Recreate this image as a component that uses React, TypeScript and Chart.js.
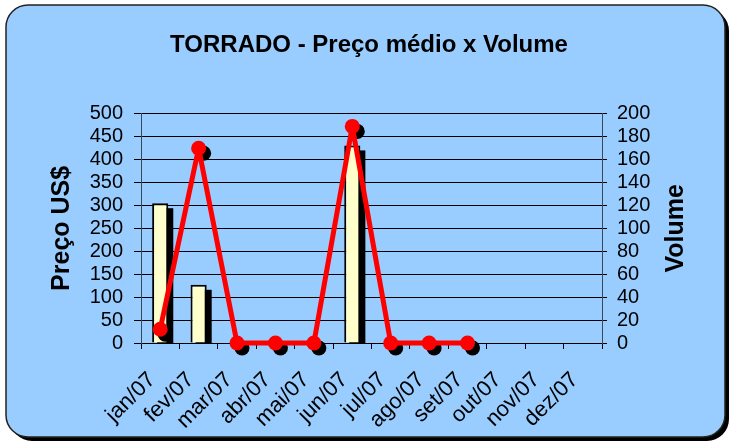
import React, { useEffect, useRef } from 'react';
import { Chart, registerables } from 'chart.js';

Chart.register(...registerables);

const titleText = 'TORRADO - Preço médio x Volume';
const leftAxisTitle = 'Preço US$';
const rightAxisTitle = 'Volume';

const categories = ['jan/07', 'fev/07', 'mar/07', 'abr/07', 'mai/07', 'jun/07', 'jul/07', 'ago/07', 'set/07', 'out/07', 'nov/07', 'dez/07'];
const precoValues: (number | null)[] = [305, 127, null, null, null, 431, null, null, null, null, null, null];
const volumeValues: (number | null)[] = [12, 170, 0, 0, 0, 189, 0, 0, 0, null, null, null];

const precoMin = 0;
const precoMax = 500;
const precoStep = 50;
const volumeMin = 0;
const volumeMax = 200;
const volumeStep = 20;

const FONT = '"Liberation Sans", Arial, sans-serif';

function roundRectPath(ctx: CanvasRenderingContext2D, x: number, y: number, w: number, h: number, r: number) {
  ctx.beginPath();
  ctx.moveTo(x + r, y);
  ctx.lineTo(x + w - r, y);
  ctx.arcTo(x + w, y, x + w, y + r, r);
  ctx.lineTo(x + w, y + h - r);
  ctx.arcTo(x + w, y + h, x + w - r, y + h, r);
  ctx.lineTo(x + r, y + h);
  ctx.arcTo(x, y + h, x, y + h - r, r);
  ctx.lineTo(x, y + r);
  ctx.arcTo(x, y, x + r, y, r);
  ctx.closePath();
}

const backgroundPlugin = {
  id: 'roundedBackground',
  beforeDraw(chart: any) {
    const ctx = chart.ctx as CanvasRenderingContext2D;
    ctx.save();
    roundRectPath(ctx, 10, 9, 719, 432, 22);
    ctx.fillStyle = '#000000';
    ctx.fill();
    roundRectPath(ctx, 6, 5, 719, 432, 22);
    ctx.fillStyle = '#99CCFF';
    ctx.fill();
    ctx.lineWidth = 1.5;
    ctx.strokeStyle = '#222222';
    ctx.stroke();
    ctx.restore();
  },
  afterDraw(chart: any) {
    const ctx = chart.ctx as CanvasRenderingContext2D;
    const area = chart.chartArea;
    ctx.save();
    ctx.translate(676, (area.top + area.bottom) / 2);
    ctx.rotate(-Math.PI / 2);
    ctx.font = `bold 25px ${FONT}`;
    ctx.fillStyle = '#000000';
    ctx.textAlign = 'center';
    ctx.textBaseline = 'middle';
    ctx.fillText(rightAxisTitle, 0, 0);
    ctx.restore();
  },
};

const shadowPlugin = {
  id: 'markShadows',
  beforeDatasetDraw(chart: any, args: any) {
    const ctx = chart.ctx as CanvasRenderingContext2D;
    const meta = args.meta;
    if (meta.type === 'bar') {
      const a = chart.chartArea;
      ctx.save();
      ctx.beginPath();
      ctx.rect(a.left, a.top, a.right - a.left, a.bottom - a.top);
      ctx.clip();
      ctx.fillStyle = '#000000';
      meta.data.forEach((el: any, i: number) => {
        if (precoValues[i] == null) return;
        const { x, y, base, width } = el.getProps(['x', 'y', 'base', 'width'], true);
        ctx.fillRect(x - width / 2 + 5, y + 5, width, base - y);
      });
      ctx.restore();
    } else if (meta.type === 'line') {
      ctx.save();
      ctx.fillStyle = '#000000';
      meta.data.forEach((el: any, i: number) => {
        if (volumeValues[i] == null || el.skip) return;
        const { x, y } = el.getProps(['x', 'y'], true);
        ctx.beginPath();
        ctx.arc(x + 5, y + 5, 7.5, 0, Math.PI * 2);
        ctx.fill();
      });
      ctx.restore();
    }
  },
};

export default function App() {
  const canvasRef = useRef<HTMLCanvasElement | null>(null);

  useEffect(() => {
    if (!canvasRef.current) return;
    Chart.defaults.font.family = FONT;
    Chart.defaults.color = '#000000';

    const chart = new Chart(canvasRef.current, {
      type: 'bar',
      data: {
        labels: categories,
        datasets: [
          {
            type: 'bar',
            label: leftAxisTitle,
            data: precoValues as any,
            yAxisID: 'y',
            backgroundColor: '#FFFFCC',
            borderColor: '#000000',
            borderWidth: 2,
            borderSkipped: 'start',
            barPercentage: 0.42,
            categoryPercentage: 1,
            order: 2,
          },
          {
            type: 'line',
            label: rightAxisTitle,
            data: volumeValues as any,
            yAxisID: 'y1',
            borderColor: '#FF0000',
            borderWidth: 5,
            borderJoinStyle: 'round',
            borderCapStyle: 'round',
            backgroundColor: '#FF0000',
            pointRadius: 7.5,
            pointBackgroundColor: '#FF0000',
            pointBorderColor: '#FF0000',
            pointBorderWidth: 0,
            tension: 0,
            spanGaps: false,
            clip: false as any,
            order: 1,
          } as any,
        ],
      },
      options: {
        animation: false,
        responsive: false,
        events: [],
        layout: { padding: { left: 6, right: 0, top: 0, bottom: 0 } },
        plugins: {
          legend: { display: false },
          tooltip: { enabled: false },
          title: {
            display: true,
            text: titleText,
            color: '#000000',
            font: { size: 24, weight: 'bold', family: FONT },
            padding: { top: 31, bottom: 54 },
          },
        },
        scales: {
          x: {
            type: 'category',
            offset: true,
            grid: { display: true, drawOnChartArea: false, offset: true, tickLength: 6, color: '#000000', lineWidth: 1 },
            border: { display: true, color: '#000000', width: 1 },
            ticks: {
              autoSkip: false,
              minRotation: 45,
              maxRotation: 45,
              labelOffset: -8,
              padding: 18,
              color: '#000000',
              font: { size: 22, family: FONT },
            },
            afterFit(s: any) {
              s.height = 102;
            },
          },
          y: {
            position: 'left',
            min: precoMin,
            max: precoMax,
            ticks: { stepSize: precoStep, autoSkip: false, padding: 11, color: '#000000', font: { size: 20, family: FONT } },
            grid: { color: '#000000', lineWidth: 1, tickLength: 7 },
            border: { display: true, color: '#3d4652', width: 1 },
            title: {
              display: true,
              text: leftAxisTitle,
              color: '#000000',
              font: { size: 25, weight: 'bold', family: FONT },
              padding: { top: 41, bottom: 0 },
            },
            afterFit(s: any) {
              s.width = 135;
            },
          },
          y1: {
            position: 'right',
            min: volumeMin,
            max: volumeMax,
            ticks: { stepSize: volumeStep, autoSkip: false, padding: 10, color: '#000000', font: { size: 20, family: FONT } },
            grid: { drawOnChartArea: false, color: '#000000', lineWidth: 1, tickLength: 5 },
            border: { display: true, color: '#3d4652', width: 1 },
            afterFit(s: any) {
              s.width = 130;
            },
          },
        },
      } as any,
      plugins: [backgroundPlugin, shadowPlugin],
    });

    return () => {
      chart.destroy();
    };
  }, []);

  return (
    <div style={{ position: 'absolute', left: 0, top: 0, width: 732, height: 445 }}>
      <canvas ref={canvasRef} width={732} height={445} style={{ display: 'block', width: 732, height: 445 }} />
    </div>
  );
}
